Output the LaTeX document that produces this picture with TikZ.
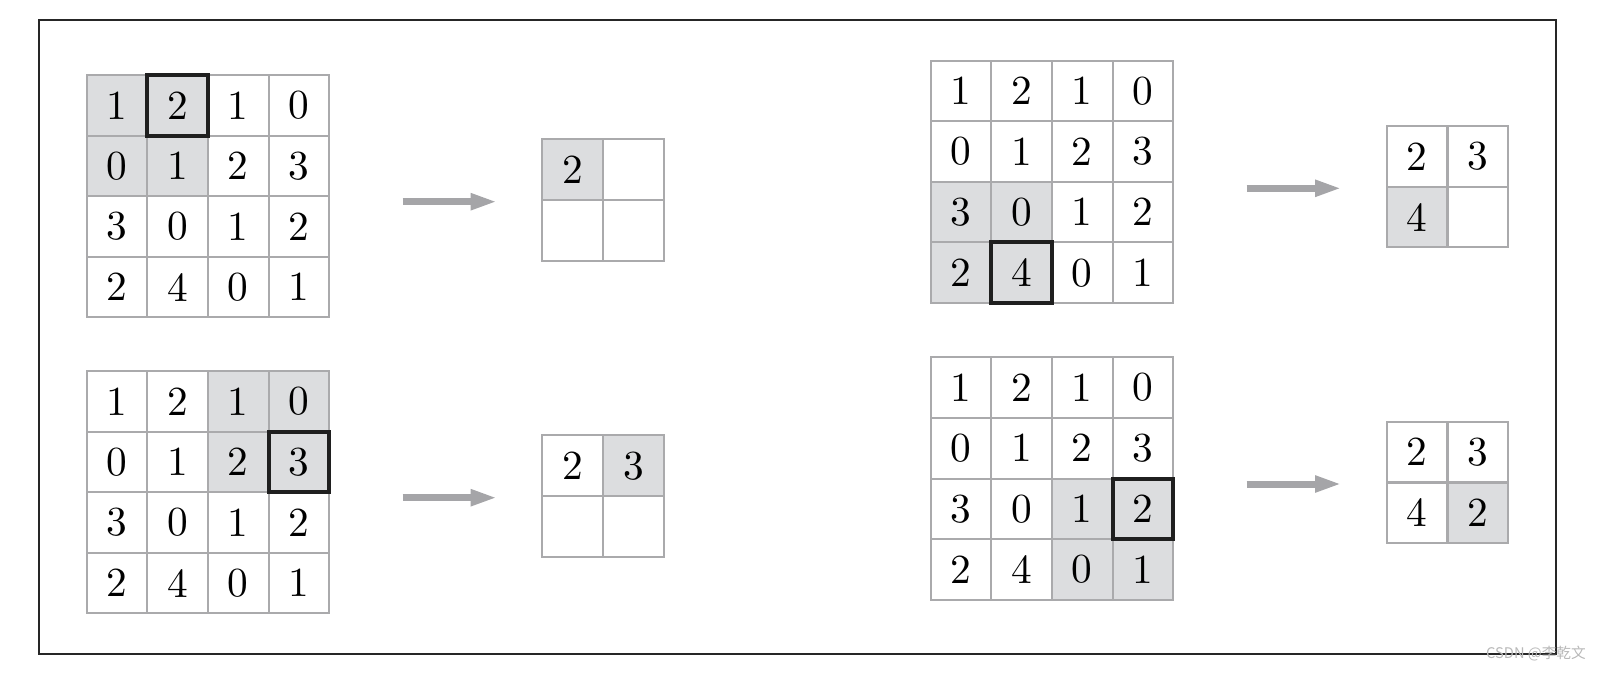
\documentclass[tikz,border=0pt]{standalone}
\usepackage{fontspec}
\usetikzlibrary{arrows.meta, positioning}
\definecolor{gridgray}{RGB}{170,170,172}
\definecolor{cellgray}{RGB}{220,221,223}
\definecolor{arrowgray}{RGB}{165,165,168}
\newfontfamily\cjkfont{Noto Sans CJK SC}
\newfontfamily\digitfont{lmroman10-regular.otf}

\begin{document}
\begin{tikzpicture}[x=0.75pt, y=-0.75pt,
    cell/.style={draw=gridgray, line width=1.5pt, minimum size=45.45pt,
      inner sep=0pt, outer sep=0pt, font=\digitfont\fontsize{31}{36}\selectfont},
    pick/.style={draw=black!88, line width=3pt},
    pool/.style={draw=arrowgray, line width=5.25pt, -{Triangle[length=20pt, width=11.5pt]}}]
    \useasboundingbox (0,0) rectangle (1601,673);
    \draw[line width=1.5pt, black!85] (39,20) rectangle (1555.7,654.3);

    % input maps: name / left / top / first row and column of the window
    \foreach \g/\gx/\gy/\sr/\sc in {g1/86.7/75/1/1, g2/86.7/371/1/3,
                                     g3/930.7/60.7/3/1, g4/930.7/357.3/3/3} {
      \foreach \v [count=\i from 0] in {1,2,1,0,0,1,2,3,3,0,1,2,2,4,0,1} {
        \pgfmathtruncatemacro{\r}{div(\i,4)+1}
        \pgfmathtruncatemacro{\c}{mod(\i,4)+1}
        \pgfmathtruncatemacro{\inwin}{and(and(\r>=\sr,\r<=\sr+1),and(\c>=\sc,\c<=\sc+1))}
        \ifnum\inwin=1 \def\fillcol{cellgray}\else\def\fillcol{white}\fi
        \node[cell, fill=\fillcol] (\g-\r-\c) at (\gx+\c*60.6-30.3, \gy+\r*60.6-30.3) {\v};
      }
    }

    % outputs: name / left / top / shaded cell / values
    \foreach \g/\gx/\gy/\k/\vals in {s1/542.3/139.3/1/{2,{},{},{}},
                                     s2/542.3/435.3/2/{2,3,{},{}},
                                     s3/1386.7/126/3/{2,3,4,{}},
                                     s4/1386.7/421.7/4/{2,3,4,2}} {
      \foreach \v [count=\i from 1] in \vals {
        \pgfmathtruncatemacro{\r}{div(\i-1,2)+1}
        \pgfmathtruncatemacro{\c}{mod(\i-1,2)+1}
        \ifnum\i=\k \def\fillcol{cellgray}\else\def\fillcol{white}\fi
        \node[cell, fill=\fillcol] (\g-\r-\c) at (\gx+\c*60.8-30.4, \gy+\r*60.8-30.4) {\v};
      }
    }

    % maximum of each window
    \draw[pick] (g1-1-2.north west) rectangle (g1-1-2.south east);
    \draw[pick] (g2-2-4.north west) rectangle (g2-2-4.south east);
    \draw[pick] (g3-4-2.north west) rectangle (g3-4-2.south east);
    \draw[pick] (g4-3-4.north west) rectangle (g4-3-4.south east);

    \coordinate (a1s) at (402.7,201.7);  \coordinate (a1e) at (497.3,201.7);
    \coordinate (a2s) at (402.7,497.7);  \coordinate (a2e) at (497.3,497.7);
    \coordinate (a3s) at (1246.7,188.3); \coordinate (a3e) at (1341.7,188.3);
    \coordinate (a4s) at (1246.7,484);   \coordinate (a4e) at (1341.7,484);
    \draw[pool] (a1s) -- (a1e);
    \draw[pool] (a2s) -- (a2e);
    \draw[pool] (a3s) -- (a3e);
    \draw[pool] (a4s) -- (a4e);

    \node[text=black!28, font=\fontsize{11}{12}\selectfont\cjkfont] (mark) at (1536,654) {CSDN @李乾文};
\end{tikzpicture}
\end{document}
